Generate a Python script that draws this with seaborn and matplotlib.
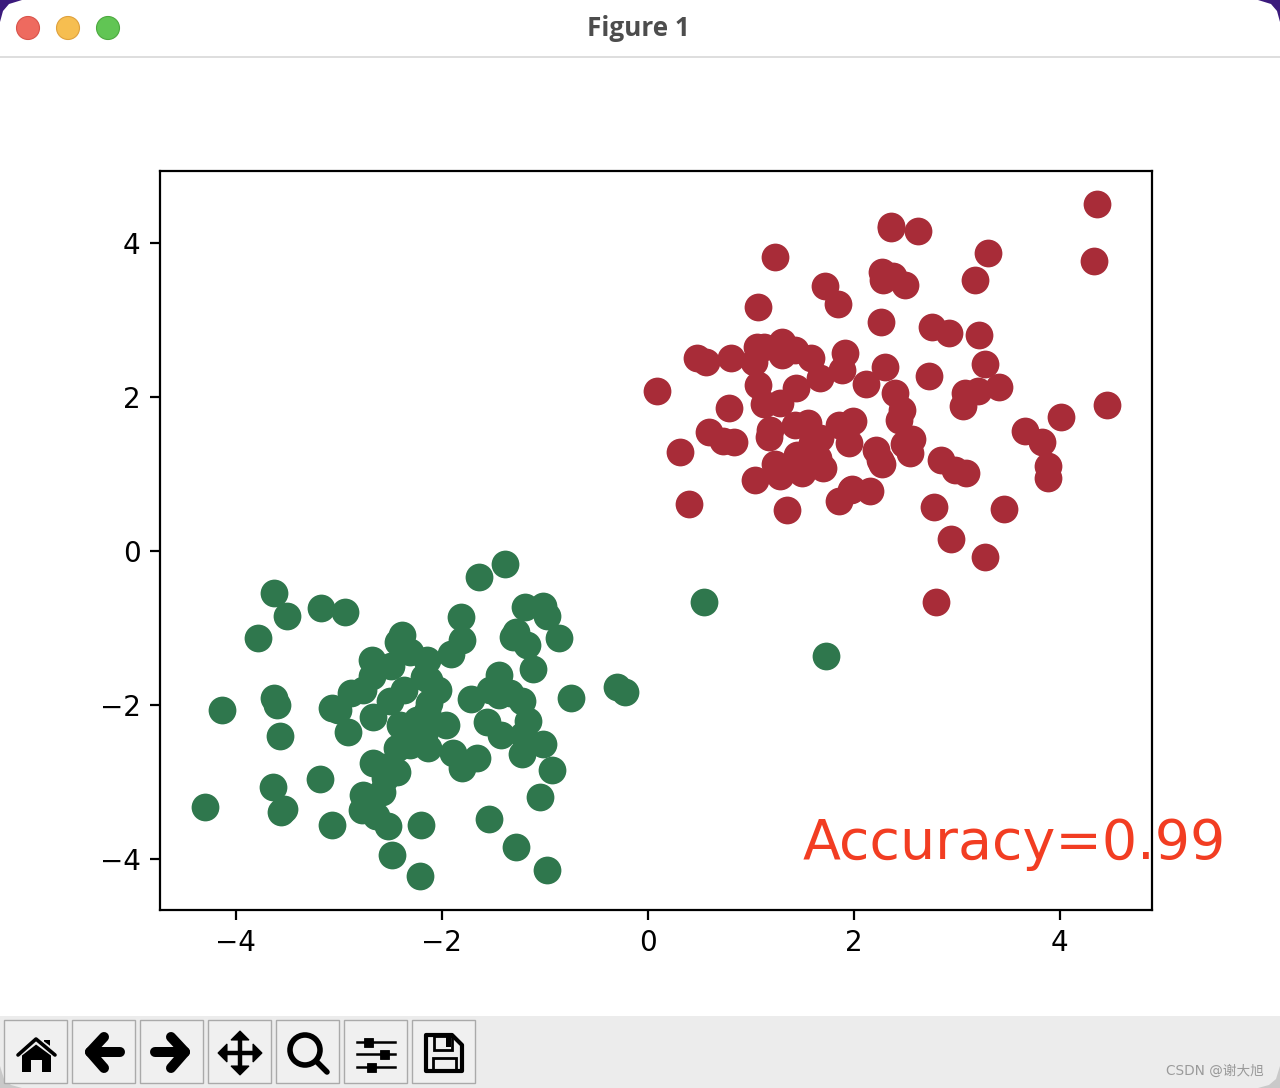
import matplotlib
matplotlib.use('Agg')
import numpy as np
import pandas as pd
import matplotlib.pyplot as plt
import seaborn as sns
from matplotlib.patches import Circle, Polygon, Rectangle

plt.rcParams['font.family'] = ['DejaVu Sans', 'Noto Sans CJK SC']

red_x = [4.36, 2.36, 2.36, 2.62, 3.30, 1.24, 4.33, 2.27, 2.38, 2.28, 2.50, 3.18, 1.72, 1.85, 1.07, 2.26,
         2.76, 2.92, 3.22, 1.30, 1.06, 1.13, 1.43, 1.58, 0.48, 0.57, 0.81, 1.03, 1.30, 1.91, 1.89, 2.30,
         3.27, 2.73, 1.67, 2.12, 0.09, 1.07, 1.44, 2.40, 3.08, 3.21, 3.41, 3.06, 4.46, 1.28, 1.13, 0.79,
         2.47, 2.44, 4.01, 1.99, 1.56, 1.43, 1.86, 1.19, 1.18, 3.66, 0.59, 0.73, 0.84, 3.83, 1.95, 1.67,
         2.57, 2.49, 2.55, 2.22, 0.31, 1.45, 1.65, 1.24, 2.85, 2.27, 2.25, 3.89, 2.98, 3.09, 3.89, 1.70,
         1.50, 1.28, 1.04, 1.98, 2.16, 1.86, 1.97, 0.40, 2.78, 3.46, 1.35, 2.94, 3.27, 2.80, 1.59, 1.48]
red_y = [4.51, 4.22, 4.19, 4.16, 3.87, 3.82, 3.77, 3.62, 3.57, 3.52, 3.45, 3.52, 3.44, 3.21, 3.17, 2.97,
         2.91, 2.83, 2.81, 2.71, 2.65, 2.65, 2.61, 2.51, 2.51, 2.45, 2.51, 2.45, 2.55, 2.57, 2.35, 2.39,
         2.43, 2.27, 2.25, 2.17, 2.08, 2.16, 2.12, 2.05, 2.05, 2.08, 2.13, 1.88, 1.90, 1.92, 1.91, 1.86,
         1.83, 1.70, 1.74, 1.69, 1.66, 1.64, 1.64, 1.57, 1.48, 1.56, 1.55, 1.43, 1.42, 1.42, 1.40, 1.47,
         1.45, 1.39, 1.27, 1.31, 1.29, 1.25, 1.21, 1.13, 1.18, 1.13, 1.18, 1.10, 1.05, 1.01, 0.95, 1.08,
         1.01, 0.97, 0.92, 0.81, 0.78, 0.65, 0.79, 0.61, 0.57, 0.55, 0.53, 0.16, -0.08, -0.66, 1.40, 1.16]

green_x = [-1.39, -1.64, -3.63, -3.17, -3.50, -2.94, -1.19, -1.02, -0.98, -1.81, -1.28, -2.39, -1.31, -3.78,
           -1.80, -0.86, -2.42, -1.17, -2.31, -1.91, -2.68, -2.14, -2.49, -1.11, -2.68, -1.44, -2.12, -2.76,
           -2.88, -2.37, -2.04, -0.30, -0.22, -1.53, -3.63, -0.75, -3.60, -4.13, -1.72, -1.44, -1.22, -2.50,
           -2.12, -3.07, -2.67, -2.14, -2.24, -1.96, -1.16, -1.56, -2.41, -2.91, -3.57, -1.42, -1.02, -2.43,
           -2.31, -2.13, -1.89, -1.66, -1.22, -2.67, -1.80, -0.93, -2.43, -2.55, -3.18, -3.64, -2.58, -2.76,
           -1.05, -3.53, -3.56, -4.30, -2.77, -2.64, -1.54, -2.52, -2.20, -3.07, -1.28, -2.48, -0.98, -2.21,
           0.55, 1.73, -3.01, -2.17, -1.21, -1.34, -2.17, -2.57]
green_y = [-0.17, -0.34, -0.55, -0.74, -0.84, -0.79, -0.73, -0.71, -0.84, -0.86, -1.05, -1.09, -1.12, -1.13,
           -1.16, -1.13, -1.18, -1.22, -1.31, -1.34, -1.42, -1.42, -1.49, -1.53, -1.62, -1.61, -1.68, -1.81,
           -1.84, -1.81, -1.81, -1.77, -1.83, -1.81, -1.91, -1.91, -2.00, -2.06, -1.92, -1.87, -1.94, -1.95,
           -1.97, -2.04, -2.16, -2.09, -2.19, -2.26, -2.21, -2.22, -2.26, -2.35, -2.40, -2.39, -2.51, -2.56,
           -2.52, -2.56, -2.62, -2.69, -2.64, -2.75, -2.82, -2.84, -2.87, -2.95, -2.96, -3.06, -3.13, -3.17,
           -3.19, -3.35, -3.39, -3.32, -3.36, -3.44, -3.48, -3.57, -3.56, -3.56, -3.84, -3.95, -4.14, -4.22,
           -0.66, -1.36, -2.06, -1.64, -2.39, -1.84, -2.39, -2.80]

accuracy_text = 'Accuracy=0.99'

W, H = 1280, 1088
fig = plt.figure(figsize=(W / 200, H / 200), dpi=200, facecolor='white')

# window chrome, in pixel coordinates
ui = fig.add_axes([0, 0, 1, 1], zorder=0)
ui.set_xlim(0, W)
ui.set_ylim(H, 0)
ui.axis('off')

ui.add_patch(Polygon([(0, 0), (22, 0), (9, 4), (3, 11), (0, 22)], fc='#3b1a7c', ec='none'))
ui.add_patch(Polygon([(W, 0), (W - 22, 0), (W - 9, 4), (W - 3, 11), (W, 22)], fc='#3b1a7c', ec='none'))
ui.plot([0, W], [56.5, 56.5], color='#d8d8d8', lw=0.6)
for cx, fc, ec in [(28, '#ee6a5f', '#d9534a'), (68, '#f6be50', '#dfa13c'), (108, '#61c554', '#4ca93f')]:
    ui.add_patch(Circle((cx, 28), 11.5, fc=fc, ec=ec, lw=0.4))
ui.text(638, 29, 'Figure 1', ha='center', va='center', fontsize=9.4, fontweight='bold',
        family='Open Sans', color='#4d4d4d')

ui.add_patch(Rectangle((0, 1016), W, 72, fc='#ececec', ec='none'))
ui.add_patch(Polygon([(0, H), (0, H - 22), (4, H - 9), (11, H - 3), (22, H)], fc='#c9c9c9', ec='none'))
ui.add_patch(Polygon([(W, H), (W, H - 22), (W - 4, H - 9), (W - 11, H - 3), (W - 22, H)], fc='#c9c9c9', ec='none'))
for bx in [4, 72, 140, 208, 276, 344, 412]:
    ui.add_patch(Rectangle((bx, 1020), 63, 63, fc='#f0f0f0', ec='#aaaaaa', lw=0.5))

def stroke(xs, ys, lw):
    ui.plot(xs, ys, color='black', lw=lw, solid_capstyle='round', solid_joinstyle='round')

# home
ui.add_patch(Polygon([(22, 1054), (36, 1043), (51, 1054), (51, 1072), (42, 1072), (42, 1060),
                      (31, 1060), (31, 1072), (22, 1072)], fc='black', ec='none'))
ui.add_patch(Rectangle((44, 1040), 6, 9, fc='black', ec='none'))
ui.plot([18, 36, 55], [1054, 1040, 1054], color='#f0f0f0', lw=2.6)
ui.plot([18, 36, 55], [1055, 1039, 1055], color='black', lw=1.3, solid_capstyle='round')
# back, forward
stroke([104, 90, 104], [1037, 1052, 1068], 3.6)
stroke([90, 120], [1052, 1052], 3.6)
stroke([171, 185, 171], [1037, 1052, 1068], 3.6)
stroke([155, 185], [1052, 1052], 3.6)
# move
stroke([240, 240], [1036, 1070], 1.6)
stroke([222, 258], [1053, 1053], 1.6)
for pts in [[(231, 1040), (240, 1031), (249, 1040)], [(231, 1066), (240, 1075), (249, 1066)],
            [(227, 1044), (218, 1053), (227, 1062)], [(253, 1044), (262, 1053), (253, 1062)]]:
    ui.add_patch(Polygon(pts, fc='black', ec='black', lw=0.4))
# zoom
ui.add_patch(Circle((305, 1050), 15, fc='none', ec='black', lw=2.0))
stroke([317, 327], [1062, 1072], 2.0)
# sliders
for ly, kx in [(1042, 368), (1054, 384), (1067, 371)]:
    ui.plot([357, 395], [ly, ly], color='black', lw=0.9)
    ui.add_patch(Rectangle((kx - 4.5, ly - 4.5), 9, 9, fc='black', ec='black', lw=0.3))
# save
ui.add_patch(Polygon([(426, 1035), (452, 1035), (462, 1045), (462, 1071), (426, 1071)],
                     closed=True, fc='none', ec='black', lw=1.5, joinstyle='round'))
ui.add_patch(Rectangle((434, 1036), 18, 14, fc='none', ec='black', lw=1.0))
ui.add_patch(Rectangle((446, 1037), 5, 10, fc='black', ec='none'))
ui.add_patch(Rectangle((433, 1058), 23, 13, fc='none', ec='black', lw=1.0))

ui.text(1264, 1071, 'CSDN @谢大旭', ha='right', va='center', fontsize=4.9,
        family=['DejaVu Sans', 'Noto Sans CJK SC'], color='#9a9a9a')

# the plot itself
ax = fig.add_axes([160 / W, (H - 910) / H, (1152 - 160) / W, (910 - 171) / H], zorder=1)
ax.patch.set_alpha(0)

red_df = pd.DataFrame({'x': red_x, 'y': red_y})
green_df = pd.DataFrame({'x': green_x, 'y': green_y})
sns.scatterplot(data=red_df, x='x', y='y', color='#a82c38', s=100, linewidth=0, ax=ax)
sns.scatterplot(data=green_df, x='x', y='y', color='#2f774d', s=100, linewidth=0, ax=ax)

ax.set_xlim(-4.735, 4.895)
ax.set_ylim(-4.66, 4.935)
ax.set_xticks(np.arange(-4, 5, 2))
ax.set_yticks(np.arange(-4, 5, 2))
ax.set_xlabel('')
ax.set_ylabel('')
ax.text(1.505, -4, accuracy_text, fontsize=20, color='#f23d22')

fig.savefig('out.png', dpi=200)
